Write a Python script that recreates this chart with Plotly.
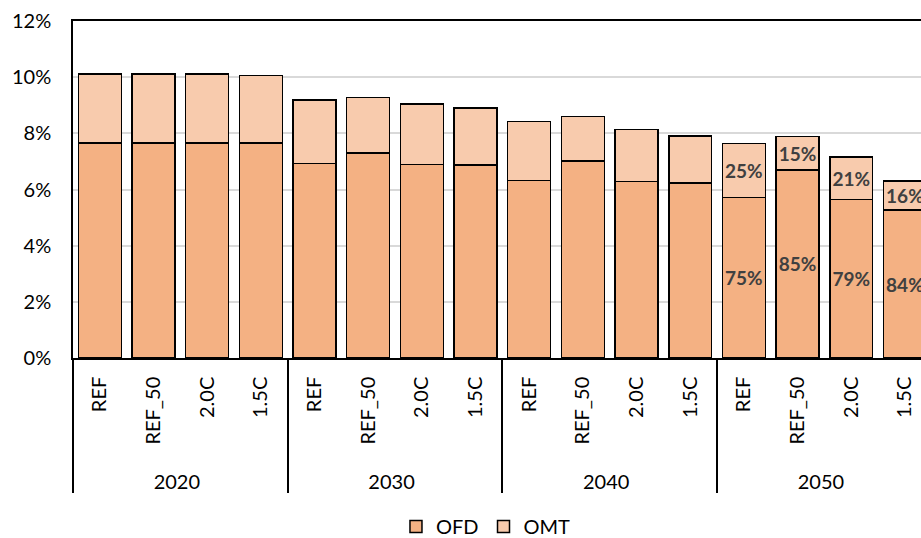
import plotly.graph_objects as go

years = ["2020"] * 4 + ["2030"] * 4 + ["2040"] * 4 + ["2050"] * 4
scenarios = ["REF", "REF_50", "2.0C", "1.5C"] * 4

ofd = [7.65, 7.65, 7.65, 7.65,
       6.92, 7.30, 6.89, 6.87,
       6.32, 7.02, 6.28, 6.24,
       5.72, 6.70, 5.64, 5.27]
total = [10.12, 10.12, 10.11, 10.06,
         9.18, 9.28, 9.04, 8.90,
         8.42, 8.60, 8.14, 7.91,
         7.64, 7.88, 7.16, 6.30]
omt = [round(t - o, 2) for t, o in zip(total, ofd)]

ofd_labels = [""] * 12 + ["75%", "85%", "79%", "84%"]
omt_labels = [""] * 12 + ["25%", "15%", "21%", "16%"]

ofd_color = "#F4B183"
omt_color = "#F8CBAD"
font_main = "Lato"

# invisible padding at the (bottom) start of the rotated labels pushes the year row down
pad = "\u2002\u00a0"
inner = [pad + s for s in scenarios]

fig = go.Figure()
fig.add_trace(go.Bar(
    x=[years, inner], y=ofd, name="OFD",
    marker=dict(color=ofd_color, line=dict(color="black", width=1.5)),
    text=ofd_labels, textposition="inside", insidetextanchor="middle",
    textangle=0, constraintext="none",
    textfont=dict(family=font_main, size=19, color="#404040", weight="bold"),
))
fig.add_trace(go.Bar(
    x=[years, inner], y=omt, name="OMT",
    marker=dict(color=omt_color, line=dict(color="black", width=1.5)),
    text=omt_labels, textposition="inside", insidetextanchor="middle",
    textangle=0, constraintext="none",
    textfont=dict(family=font_main, size=19, color="#404040", weight="bold"),
))

fig.update_layout(
    width=921, height=538,
    barmode="stack", bargap=0.2,
    plot_bgcolor="white", paper_bgcolor="white",
    margin=dict(l=73, r=0, t=21, b=180, autoexpand=False),
    font=dict(family=font_main, size=20, color="black"),
    showlegend=True,
    legend=dict(orientation="h", x=0.487, xanchor="center", y=-0.50, yanchor="middle",
                font=dict(family=font_main, size=20, color="black"),
                itemwidth=30, traceorder="normal"),
    hovermode=False,
)
fig.update_xaxes(
    type="multicategory",
    range=[-0.5, 15.3],
    automargin=False,
    showline=True, linecolor="black", linewidth=1.5, mirror=True,
    tickangle=-90,
    tickfont=dict(family=font_main, size=20, color="black"),
    showdividers=True, dividercolor="black", dividerwidth=1.5,
    ticks="", ticklabelstandoff=9,
    showgrid=False,
)
fig.update_yaxes(
    range=[0, 12], dtick=2, ticksuffix="%",
    automargin=False,
    showline=True, linecolor="black", linewidth=1.5, mirror=True,
    gridcolor="#D9D9D9", gridwidth=1.5,
    tickfont=dict(family=font_main, size=20, color="black"),
    ticks="", zeroline=False, ticklabelstandoff=16,
)

fig.write_html(
    "out.html",
    config={"displayModeBar": False},
    post_script="document.body.style.margin='0';document.body.style.overflow='hidden';",
)
